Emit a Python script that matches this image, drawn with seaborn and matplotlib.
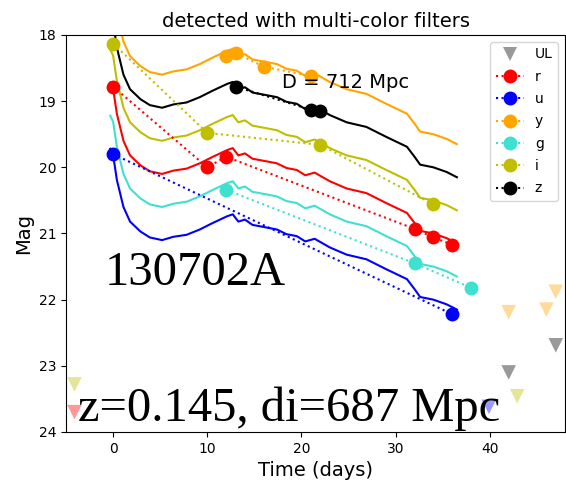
import numpy as np
import pandas as pd
import matplotlib
import matplotlib.pyplot as plt
import seaborn as sns
from matplotlib.lines import Line2D

matplotlib.use('Agg')

# model light curves (solid lines), one per filter
model_t = [-0.3, 0.0, 0.4, 1.1, 1.8, 2.9, 3.9, 5.2, 6.4, 7.8, 9.2, 10.6, 12.1, 12.7, 13.3, 14.0, 14.8,
           16.3, 17.4, 18.4, 19.5, 20.4, 21.4, 23.0, 24.8, 26.9, 29.0, 31.2, 32.0, 32.6, 34.0, 35.4, 36.5]
model_u = [19.72, 19.81, 20.19, 20.60, 20.82, 20.97, 21.06, 21.10, 21.05, 21.02, 20.94, 20.84, 20.74, 20.71, 20.82, 20.79, 20.87,
           20.91, 20.94, 21.01, 21.04, 21.12, 21.08, 21.21, 21.32, 21.39, 21.54, 21.69, 21.84, 21.96, 22.00, 22.07, 22.15]
model_g = [19.22, 19.31, 19.69, 20.10, 20.32, 20.47, 20.56, 20.60, 20.55, 20.52, 20.44, 20.34, 20.24, 20.21, 20.32, 20.29, 20.37,
           20.41, 20.44, 20.51, 20.54, 20.62, 20.58, 20.71, 20.82, 20.89, 21.04, 21.19, 21.34, 21.46, 21.50, 21.57, 21.65]
model_r = [18.72, 18.81, 19.19, 19.60, 19.82, 19.97, 20.06, 20.10, 20.05, 20.02, 19.94, 19.84, 19.74, 19.71, 19.82, 19.79, 19.87,
           19.91, 19.94, 20.01, 20.04, 20.12, 20.08, 20.21, 20.32, 20.39, 20.54, 20.69, 20.84, 20.96, 21.00, 21.07, 21.15]
model_i = [18.22, 18.31, 18.69, 19.10, 19.32, 19.47, 19.56, 19.60, 19.55, 19.52, 19.44, 19.34, 19.24, 19.21, 19.32, 19.29, 19.37,
           19.41, 19.44, 19.51, 19.54, 19.62, 19.58, 19.71, 19.82, 19.89, 20.04, 20.19, 20.34, 20.46, 20.50, 20.57, 20.65]
model_z = [17.72, 17.81, 18.19, 18.60, 18.82, 18.97, 19.06, 19.10, 19.05, 19.02, 18.94, 18.84, 18.74, 18.71, 18.82, 18.79, 18.87,
           18.91, 18.94, 19.01, 19.04, 19.12, 19.08, 19.21, 19.32, 19.39, 19.54, 19.69, 19.84, 19.96, 20.00, 20.07, 20.15]
model_y = [17.22, 17.31, 17.69, 18.10, 18.32, 18.47, 18.56, 18.60, 18.55, 18.52, 18.44, 18.34, 18.24, 18.21, 18.32, 18.29, 18.37,
           18.41, 18.44, 18.51, 18.54, 18.62, 18.58, 18.71, 18.82, 18.89, 19.04, 19.19, 19.34, 19.46, 19.50, 19.57, 19.65]

# detections
det_r_t = [0, 10, 12, 32, 34, 36]
det_r_m = [18.78, 20.00, 19.84, 20.93, 21.06, 21.17]
det_u_t = [0, 36]
det_u_m = [19.80, 22.22]
det_y_t = [12, 13, 16, 21]
det_y_m = [18.32, 18.27, 18.48, 18.62]
det_g_t = [12, 32, 38]
det_g_m = [20.34, 21.45, 21.82]
det_i_t = [0, 10, 22, 34]
det_i_m = [18.13, 19.48, 19.66, 20.56]
det_z_t = [13, 21, 22]
det_z_m = [18.78, 19.13, 19.15]

# upper limits
ul_t = [-4.1, -4.1, 39.9, 42.0, 46.0, 47.0, 47.0, 42.0, 42.9]
ul_m = [23.28, 23.70, 23.62, 22.19, 22.15, 21.88, 22.69, 23.10, 23.46]
ul_band = ['i', 'r', 'u', 'y', 'y', 'y', 'z', 'z', 'i']

band_order = ['r', 'u', 'y', 'g', 'i', 'z']
band_colors = {'r': 'red', 'u': 'blue', 'y': 'orange', 'g': 'turquoise', 'i': 'y', 'z': 'black'}
models = {'r': model_r, 'u': model_u, 'y': model_y, 'g': model_g, 'i': model_i, 'z': model_z}
dets = {'r': (det_r_t, det_r_m), 'u': (det_u_t, det_u_m), 'y': (det_y_t, det_y_m),
        'g': (det_g_t, det_g_m), 'i': (det_i_t, det_i_m), 'z': (det_z_t, det_z_m)}

fig = plt.figure(figsize=(5.66, 4.83), dpi=100)
ax = fig.add_axes([0.1166, 0.1056, 0.882, 0.822])

for b in band_order:
    c = band_colors[b]
    sns.lineplot(x=model_t, y=models[b], color=c, lw=1.5, sort=False, ax=ax, legend=False)
for b in band_order:
    c = band_colors[b]
    t, m = dets[b]
    sns.lineplot(x=t, y=m, color=c, lw=1.5, linestyle=':', marker='o', markersize=10,
                 markeredgecolor=c, markeredgewidth=0, sort=False, ax=ax, legend=False)

ul_df = pd.DataFrame({'t': ul_t, 'm': ul_m, 'band': ul_band})
sns.scatterplot(data=ul_df, x='t', y='m', hue='band', palette=band_colors, marker='v',
                s=110, alpha=0.4, linewidth=0, ax=ax, legend=False)

ax.set_xlim(-5, 48)
ax.set_ylim(24, 18)
ax.set_xticks([0, 10, 20, 30, 40])
ax.set_yticks([18, 19, 20, 21, 22, 23, 24])
ax.tick_params(labelsize=10)
ax.set_xlabel('Time (days)', fontsize=14)
ax.set_ylabel('Mag', fontsize=14)
ax.set_title('detected with multi-color filters', fontsize=14)

ax.text(17.9, 18.8, 'D = 712 Mpc', fontsize=14)
ax.text(-0.9, 21.78, '130702A', fontsize=35, family='Liberation Serif')
ax.text(-3.7, 23.84, 'z=0.145, di=687 Mpc', fontsize=35, family='Liberation Serif')

handles = [Line2D([], [], color='k', alpha=0.4, marker='v', linestyle='none', markersize=10, markeredgewidth=0)]
for b in band_order:
    c = band_colors[b]
    handles.append(Line2D([], [], color=c, linestyle=':', marker='o', markersize=10, markeredgewidth=0))
ax.legend(handles, ['UL'] + band_order, loc='upper right', fontsize=10, labelspacing=0.6)

fig.savefig('out.png', dpi=100)
